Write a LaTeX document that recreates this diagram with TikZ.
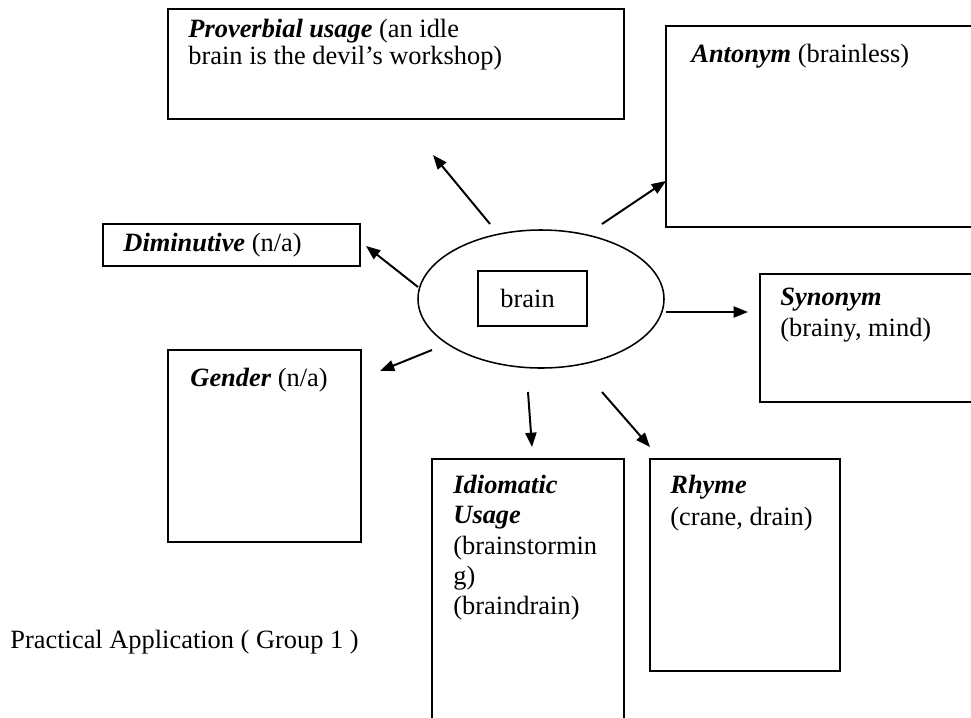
\documentclass[tikz,border=0pt]{standalone}
\usepackage{fontspec}
\setmainfont{Liberation Serif}
\usetikzlibrary{arrows.meta,shapes.geometric,fit}
\begin{document}
\begin{tikzpicture}[x=0.4545pt,y=-0.4545pt,
  box/.style={draw,line width=0.7pt,inner sep=0pt,rectangle},
  txt/.style={anchor=base west,inner sep=0pt,font=\fontsize{12}{14}\selectfont},
  arr/.style={line width=0.9pt,-{Triangle[length=6.5pt,width=5pt]}}]
\clip (0,0) rectangle (971,717);
\fill[white] (0,0) rectangle (971,717);
% boxes
\node[box,fit={(168,9) (624,119)}] (prov) {};
\node[box,fit={(666,26) (990,227)}] (ant) {};
\node[box,fit={(103,224) (360,266)}] (dim) {};
\node[box,fit={(760,274) (990,402)}] (syn) {};
\node[box,fit={(168,350) (361,542)}] (gen) {};
\node[box,fit={(432,459) (624,740)}] (idi) {};
\node[box,fit={(650,459) (840,671)}] (rhy) {};
\node[draw,ellipse,line width=0.7pt,inner sep=0pt,minimum width=246*0.4545pt,minimum height=138*0.4545pt] (ell) at (541,299) {};
\node[box,fit={(478,271) (587,326)}] (core) {};
% texts
\node[txt] (provA) at (188,37) {\textbf{\textit{Proverbial usage}} (an idle};
\node[txt] (provB) at (188,64) {brain is the devil’s workshop)};
\node[txt] (antT) at (691,62) {\textbf{\textit{Antonym}} (brainless)};
\node[txt] (dimT) at (123,251) {\textbf{\textit{Diminutive}} (n/a)};
\node[txt] (synA) at (780,305) {\textbf{\textit{Synonym}}};
\node[txt] (synB) at (780,336) {(brainy, mind)};
\node[txt] (genT) at (190,386) {\textbf{\textit{Gender}} (n/a)};
\node[txt] (idiA) at (453,493) {\textbf{\textit{Idiomatic}}};
\node[txt] (idiB) at (453,523) {\textbf{\textit{Usage}}};
\node[txt] (idiC) at (453,554) {(brainstormin};
\node[txt] (idiD) at (453,584) {g)};
\node[txt] (idiE) at (453,614) {(braindrain)};
\node[txt] (rhyA) at (670,493) {\textbf{\textit{Rhyme}}};
\node[txt] (rhyB) at (670,525) {(crane, drain)};
\node[txt] (coreT) at (500,307) {brain};
\node[txt] (pract) at (10,648) {Practical Application ( Group 1 )};
% arrow ends
\coordinate (p1) at (490,224); \coordinate (p2) at (433,155);
\coordinate (a1) at (602,224); \coordinate (a2) at (666,181);
\coordinate (d1) at (418,287); \coordinate (d2) at (366,246);
\coordinate (s1) at (666,312); \coordinate (s2) at (748,312);
\coordinate (g1) at (432,350); \coordinate (g2) at (380,371);
\coordinate (i1) at (528,392); \coordinate (i2) at (532,447);
\coordinate (r1) at (602,392); \coordinate (r2) at (650,447);
\draw[arr] (p1) -- (p2);
\draw[arr] (a1) -- (a2);
\draw[arr] (d1) -- (d2);
\draw[arr] (s1) -- (s2);
\draw[arr] (g1) -- (g2);
\draw[arr] (i1) -- (i2);
\draw[arr] (r1) -- (r2);
\end{tikzpicture}
\end{document}
